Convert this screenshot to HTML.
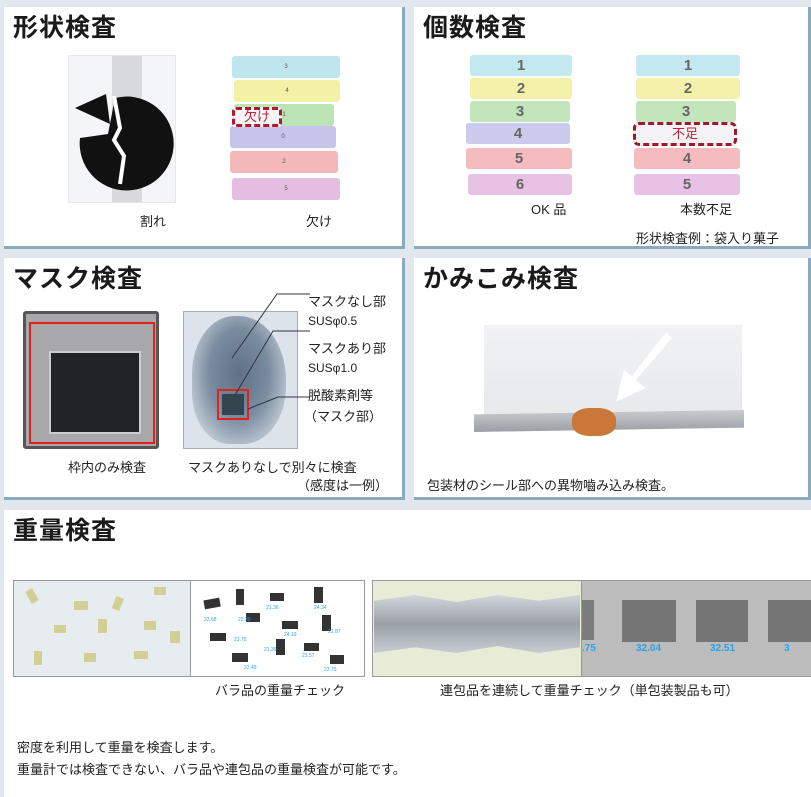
<!DOCTYPE html>
<html><head><meta charset="utf-8"><style>
*{margin:0;padding:0;box-sizing:border-box}
body{width:811px;height:797px;background:#e1e7ec;position:relative;overflow:hidden;font-family:"Liberation Sans","Noto Sans CJK JP",sans-serif;color:#222}
.p{position:absolute;background:#fff;border-right:3px solid #8ba9bf;border-bottom:3px solid #8ba9bf}
.h{position:absolute;font-size:25px;font-weight:bold;color:#1a1a1a;letter-spacing:1px}
.t{position:absolute;font-size:13px;white-space:nowrap}
.a{position:absolute}
.bar{position:absolute;height:21px;border-radius:3px;font-size:15px;font-weight:bold;color:#666;text-align:center;line-height:21px}
.sb{position:absolute;height:22px;border-radius:3px;font-size:6px;color:#555;text-align:center;line-height:22px}
.num{position:absolute;font-size:10px;color:#29a3e6;font-weight:bold}
</style></head><body>

<!-- top-left -->
<div class="p" style="left:4px;top:7px;width:401px;height:242px"></div>
<div class="h" style="left:13px;top:8px">形状検査</div>
<div class="a" style="left:68px;top:55px;width:108px;height:148px;background:#f4f5f7;border:1px solid #e6e8ea"></div>
<div class="a" style="left:112px;top:56px;width:30px;height:146px;background:#d8d9db"></div>
<svg class="a" style="left:70px;top:88px" width="104" height="104" viewBox="0 0 104 104">
<path d="M45 10 A47 47 0 1 1 10 50 L38 46 Z" fill="#111"/>
<path d="M5 20 L36 6 L40 36 Z" fill="#111"/>
<path d="M44 8 L50 40 L44 52 L54 68 L50 96" stroke="#fff" stroke-width="4" fill="none"/>
</svg>
<div class="t" style="left:140px;top:211px">割れ</div>
<div class="sb" style="left:232px;top:56px;width:108px;background:#bfe6ee">3</div>
<div class="sb" style="left:234px;top:80px;width:106px;background:#f3f1a6">4</div>
<div class="sb" style="left:234px;top:104px;width:100px;background:#bde4b5">1</div>
<div class="sb" style="left:230px;top:126px;width:106px;background:#c6c4ea">0</div>
<div class="sb" style="left:230px;top:151px;width:108px;background:#f4b7ba">2</div>
<div class="sb" style="left:232px;top:178px;width:108px;background:#e6bde2">5</div>
<div class="a" style="left:232px;top:107px;width:50px;height:20px;border:3px dashed #b5162a;border-radius:4px;background:#f4f4f6;color:#c0223a;font-size:13px;text-align:center;line-height:14px">欠け</div>
<div class="t" style="left:306px;top:211px">欠け</div>

<!-- top-right -->
<div class="p" style="left:414px;top:7px;width:397px;height:242px"></div>
<div class="h" style="left:423px;top:8px">個数検査</div>
<div class="bar" style="left:470px;top:55px;width:102px;background:#c4e8ef">1</div>
<div class="bar" style="left:470px;top:78px;width:102px;background:#f3f1aa">2</div>
<div class="bar" style="left:470px;top:101px;width:100px;background:#c2e5bb">3</div>
<div class="bar" style="left:466px;top:123px;width:104px;background:#cccaed">4</div>
<div class="bar" style="left:466px;top:148px;width:106px;background:#f5bcbf">5</div>
<div class="bar" style="left:468px;top:174px;width:104px;background:#e8c2e4">6</div>
<div class="t" style="left:531px;top:199px">OK 品</div>
<div class="bar" style="left:636px;top:55px;width:104px;background:#c4e8ef">1</div>
<div class="bar" style="left:636px;top:78px;width:104px;background:#f3f1aa">2</div>
<div class="bar" style="left:636px;top:101px;width:100px;background:#c2e5bb">3</div>
<div class="a" style="left:633px;top:122px;width:104px;height:24px;border:3px dashed #9e1a2a;border-radius:6px;background:#f3f3f5;color:#c0223a;font-size:13px;text-align:center;line-height:18px">不足</div>
<div class="bar" style="left:634px;top:148px;width:106px;background:#f5bcbf">4</div>
<div class="bar" style="left:634px;top:174px;width:106px;background:#e8c2e4">5</div>
<div class="t" style="left:680px;top:199px">本数不足</div>
<div class="t" style="left:636px;top:228px">形状検査例：袋入り菓子</div>

<!-- mid-left -->
<div class="p" style="left:4px;top:258px;width:401px;height:242px"></div>
<div class="h" style="left:13px;top:259px">マスク検査</div>
<div class="a" style="left:23px;top:311px;width:136px;height:138px;background:#a8a8aa;border:3px solid #555;border-radius:3px"></div>
<div class="a" style="left:29px;top:322px;width:126px;height:122px;border:2px solid #e62020"></div>
<div class="a" style="left:49px;top:351px;width:92px;height:83px;background:#222326;border:2px solid #ccc"></div>
<div class="t" style="left:68px;top:457px">枠内のみ検査</div>
<div class="a" style="left:183px;top:311px;width:115px;height:138px;background:#dce3ea;border:1px solid #aaa"></div>
<div class="a" style="left:192px;top:316px;width:94px;height:128px;background:radial-gradient(ellipse at 50% 45%,#5e7186 0%,#7a8c9f 45%,rgba(160,175,190,.6) 75%,rgba(220,227,234,0) 100%);border-radius:45% 50% 45% 40%"></div>
<div class="a" style="left:217px;top:389px;width:32px;height:31px;border:2px solid #e62020"></div>
<div class="a" style="left:222px;top:394px;width:22px;height:21px;background:#34454f"></div>
<svg class="a" style="left:180px;top:290px" width="140" height="150"><path d="M52 68 L97 4 L130 4 M55 105 L93 41 L130 41 M68 119 L98 107 L130 107" stroke="#334" fill="none" stroke-width="1"/></svg>
<div class="t" style="left:308px;top:291px">マスクなし部</div>
<div class="t" style="left:308px;top:314px;font-size:12px">SUSφ0.5</div>
<div class="t" style="left:308px;top:338px">マスクあり部</div>
<div class="t" style="left:308px;top:361px;font-size:12px">SUSφ1.0</div>
<div class="t" style="left:308px;top:385px">脱酸素剤等</div>
<div class="t" style="left:304px;top:406px">（マスク部）</div>
<div class="t" style="left:188px;top:457px">マスクありなしで別々に検査</div>
<div class="t" style="left:297px;top:475px">（感度は一例）</div>

<!-- mid-right -->
<div class="p" style="left:414px;top:258px;width:397px;height:242px"></div>
<div class="h" style="left:423px;top:259px">かみこみ検査</div>
<div class="a" style="left:484px;top:325px;width:258px;height:100px;background:linear-gradient(#f1f2f4,#e6e8eb);"></div>
<div class="a" style="left:474px;top:410px;width:270px;height:22px;background:linear-gradient(#c9cbcf,#9a9ea4);clip-path:polygon(0 20%,100% 0,100% 80%,0 100%)"></div>
<div class="a" style="left:572px;top:408px;width:44px;height:28px;background:#c9783a;border-radius:40%"></div>
<svg class="a" style="left:610px;top:330px" width="70" height="80"><path d="M62 8 L26 50 L36 58 L6 72 L14 40 L22 46 L56 2Z" fill="#fff"/></svg>
<div class="t" style="left:427px;top:475px">包装材のシール部への異物嚙み込み検査。</div>

<!-- bottom -->
<div class="a" style="left:4px;top:510px;width:807px;height:287px;background:#fff"></div>
<div class="h" style="left:13px;top:511px">重量検査</div>
<div class="a" style="left:13px;top:580px;width:178px;height:97px;background:#e7ecf0;border:1px solid #999"></div>
<div class="a" style="left:191px;top:580px;width:174px;height:97px;background:#fff;border:1px solid #999;border-left:none"></div>
<svg class="a" style="left:14px;top:581px" width="350" height="95">
<g fill="#d2cf94"><rect x="14" y="8" width="8" height="14" transform="rotate(-30 18 15)"/><rect x="60" y="20" width="14" height="9"/><rect x="100" y="16" width="8" height="13" transform="rotate(20 104 22)"/><rect x="140" y="6" width="12" height="8"/><rect x="40" y="44" width="12" height="8"/><rect x="84" y="38" width="9" height="14"/><rect x="130" y="40" width="12" height="9"/><rect x="20" y="70" width="8" height="14"/><rect x="70" y="72" width="12" height="9"/><rect x="120" y="70" width="14" height="8"/><rect x="156" y="50" width="10" height="12"/></g>
<g fill="#333"><rect x="190" y="18" width="16" height="9" transform="rotate(-10 198 22)"/><rect x="222" y="8" width="8" height="16"/><rect x="256" y="12" width="14" height="8"/><rect x="300" y="6" width="9" height="16"/><rect x="232" y="32" width="14" height="9"/><rect x="268" y="40" width="16" height="8"/><rect x="308" y="34" width="9" height="16"/><rect x="196" y="52" width="16" height="8"/><rect x="262" y="58" width="9" height="16"/><rect x="218" y="72" width="16" height="9"/><rect x="290" y="62" width="15" height="8"/><rect x="316" y="74" width="14" height="9"/></g>
<g fill="#29a3e6" font-size="5" font-family="Liberation Sans"><text x="190" y="40">22.68</text><text x="224" y="40">22.39</text><text x="252" y="28">21.36</text><text x="300" y="28">24.34</text><text x="270" y="55">24.19</text><text x="314" y="52">22.87</text><text x="220" y="60">23.75</text><text x="250" y="70">21.39</text><text x="288" y="76">23.57</text><text x="230" y="88">22.49</text><text x="310" y="90">23.75</text></g>
</svg>
<div class="a" style="left:372px;top:580px;width:210px;height:97px;background:#e8ecd6;border:1px solid #999"></div>
<div class="a" style="left:374px;top:595px;width:206px;height:58px;background:linear-gradient(#d3d6dc,#9aa0a8 50%,#c8ccd2);clip-path:polygon(0 10%,20% 0,40% 12%,60% 0,80% 10%,100% 0,100% 90%,80% 100%,60% 88%,40% 100%,20% 90%,0 100%)"></div>
<div class="a" style="left:582px;top:580px;width:229px;height:97px;background:#bcbcbc;border-top:1px solid #999;border-bottom:1px solid #999"></div>
<div class="a" style="left:582px;top:600px;width:12px;height:40px;background:#7c7c7c"></div>
<div class="a" style="left:622px;top:600px;width:54px;height:42px;background:#757575"></div>
<div class="a" style="left:696px;top:600px;width:52px;height:42px;background:#757575"></div>
<div class="a" style="left:768px;top:600px;width:43px;height:42px;background:#757575"></div>
<div class="num" style="left:582px;top:643px">.75</div>
<div class="num" style="left:636px;top:643px">32.04</div>
<div class="num" style="left:710px;top:643px">32.51</div>
<div class="num" style="left:784px;top:643px">3</div>
<div class="t" style="left:215px;top:680px">バラ品の重量チェック</div>
<div class="t" style="left:440px;top:680px">連包品を連続して重量チェック（単包装製品も可）</div>
<div class="t" style="left:17px;top:737px">密度を利用して重量を検査します。</div>
<div class="t" style="left:17px;top:759px">重量計では検査できない、バラ品や連包品の重量検査が可能です。</div>
</body></html>
